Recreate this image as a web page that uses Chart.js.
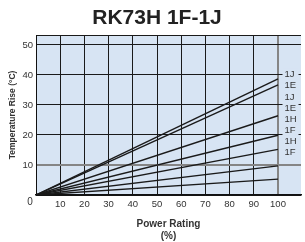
<!DOCTYPE html>
<html>
<head>
<meta charset="utf-8">
<script src="https://cdn.jsdelivr.net/npm/chart.js@4.4.1/dist/chart.umd.min.js"></script>
<style>
html,body{margin:0;padding:0;background:#fff;}
#wrap{width:305px;height:242px;}
</style>
</head>
<body>
<div id="wrap"><canvas id="c" width="305" height="242"></canvas></div>
<script>
const titleText = 'RK73H 1F-1J';
const xTicks = [10, 20, 30, 40, 50, 60, 70, 80, 90, 100];
const yTicks = [10, 20, 30, 40, 50];
const powerPoints = [0, 100];
const series1 = [0, 38.7];
const series2 = [0, 36.7];
const series3 = [0, 26.4];
const series4 = [0, 19.9];
const series5 = [0, 15.2];
const series6 = [0, 9.7];
const series7 = [0, 5.3];
const rightLabels = ['1J', '1E', '1J', '1E', '1H', '1F', '1H', '1F'];
const rightLabelValues = [40.2, 36.6, 32.7, 29.0, 25.3, 21.7, 18.0, 14.3];

const allSeries = [series1, series2, series3, series4, series5, series6, series7];
const PLOT_BG = '#d7e4f3';

const bgPlugin = {
  id: 'bg',
  beforeDraw(chart) {
    const {ctx, chartArea: a} = chart;
    ctx.save();
    ctx.fillStyle = PLOT_BG;
    ctx.fillRect(a.left, a.top, a.right - a.left, a.bottom - a.top);
    ctx.restore();
  },
  afterDraw(chart) {
    const {ctx} = chart;
    const xs = chart.scales.x, ys = chart.scales.y;
    ctx.save();
    // title
    ctx.fillStyle = '#222';
    ctx.font = 'bold 21px "Liberation Sans", Arial, sans-serif';
    ctx.textAlign = 'center';
    ctx.textBaseline = 'middle';
    ctx.fillText(titleText, 157, 18);
    // origin label
    ctx.font = '10px "Liberation Sans", Arial, sans-serif';
    ctx.fillStyle = '#333';
    ctx.fillText('0', xs.getPixelForValue(0) - 6, ys.getPixelForValue(0) + 7);
    // right labels
    ctx.font = '9.5px "Liberation Sans", Arial, sans-serif';
    ctx.textAlign = 'left';
    const lx = xs.getPixelForValue(100) + 6.5;
    rightLabels.forEach((t, i) => {
      const ly = ys.getPixelForValue(rightLabelValues[i]);
      ctx.fillStyle = PLOT_BG;
      ctx.fillRect(lx - 2, ly - 5.5, 16, 11);
      ctx.fillStyle = '#333';
      ctx.fillText(t, lx, ly + 0.5);
    });
    ctx.restore();
  }
};

new Chart(document.getElementById('c'), {
  type: 'scatter',
  data: {
    datasets: allSeries.map((s, i) => ({
      label: 'line' + (i + 1),
      data: powerPoints.map((p, j) => ({x: p, y: s[j]})),
      showLine: true,
      borderColor: '#1a1a1a',
      borderWidth: 1.4,
      pointRadius: 0,
      fill: false
    }))
  },
  options: {
    responsive: false,
    animation: false,
    devicePixelRatio: 1,
    layout: {padding: {top: 35, right: 0, left: 0, bottom: 0}},
    plugins: {legend: {display: false}, title: {display: false}, tooltip: {enabled: false}},
    scales: {
      x: {
        type: 'linear',
        min: 0,
        max: 109.5,
        afterBuildTicks(scale) {
          scale.ticks = [0].concat(xTicks).concat([109.5]).map(v => ({value: v}));
        },
        afterFit(scale) { scale.height = 47; },
        ticks: {
          callback: v => (xTicks.includes(v) ? String(v) : ''),
          color: '#333',
          font: {family: '"Liberation Sans", Arial, sans-serif', size: 9.5},
          padding: 4,
          maxRotation: 0,
          autoSkip: false
        },
        grid: {
          drawTicks: false,
          color: ctx => (ctx.tick && ctx.tick.value === 100 ? '#858585' : (ctx.tick && ctx.tick.value > 100 ? 'rgba(0,0,0,0)' : '#1a1a1a')),
          lineWidth: ctx => (ctx.tick && ctx.tick.value === 100 ? 2 : 1)
        },
        border: {display: true, color: '#111', width: 1.5},
        title: {
          display: true,
          text: ['Power Rating', '(%)'],
          color: '#333',
          font: {family: '"Liberation Sans", Arial, sans-serif', size: 10, weight: 'bold', lineHeight: 1.2},
          padding: {top: 0, bottom: 0}
        }
      },
      y: {
        type: 'linear',
        min: 0,
        max: 53.3,
        afterBuildTicks(scale) {
          scale.ticks = [0].concat(yTicks).concat([53.3]).map(v => ({value: v}));
        },
        afterFit(scale) { scale.width = 36; },
        ticks: {
          callback: v => (yTicks.includes(v) ? String(v) : ''),
          color: '#333',
          font: {family: '"Liberation Sans", Arial, sans-serif', size: 9.5},
          padding: 3,
          autoSkip: false
        },
        grid: {
          drawTicks: false,
          color: ctx => (ctx.tick && ctx.tick.value === 10 ? '#858585' : '#1a1a1a'),
          lineWidth: ctx => (ctx.tick && ctx.tick.value === 10 ? 2 : 1)
        },
        border: {display: true, color: '#111', width: 1},
        title: {
          display: true,
          text: 'Temperature Rise (°C)',
          color: '#333',
          font: {family: '"Liberation Sans", Arial, sans-serif', size: 8.5, weight: 'bold', lineHeight: 1.2},
          padding: {top: 8, bottom: 0}
        }
      }
    }
  },
  plugins: [bgPlugin]
});
</script>
</body>
</html>
